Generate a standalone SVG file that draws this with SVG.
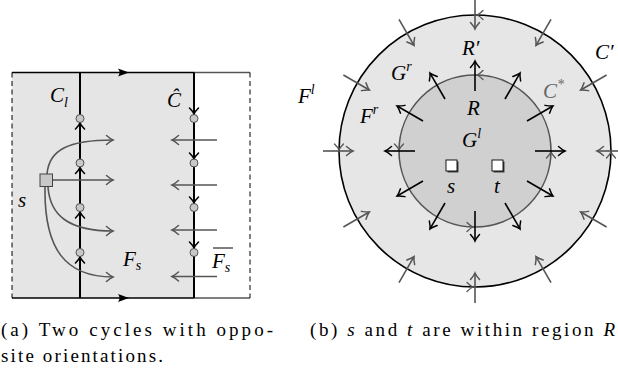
<svg xmlns="http://www.w3.org/2000/svg" width="618" height="368" viewBox="0 0 618 368">
<style>
.m{font-family:"Liberation Serif","Times New Roman",serif;font-style:italic;font-size:21px;fill:#000}
.sub{font-size:14px}
.cap{font-family:"Liberation Serif","Times New Roman",serif;font-size:19px;fill:#000}
.ga{fill:none;stroke:#555;stroke-width:1.6;marker-end:url(#mg)}
.ba{fill:none;stroke:#000;stroke-width:1.6;marker-end:url(#mb)}
.dot{fill:#c8c8c8;stroke:#444;stroke-width:0.9}
.hb{fill:none;stroke:#000;stroke-width:1.6;stroke-linecap:round}
.hg{fill:none;stroke:#555;stroke-width:1.3;stroke-linecap:round}
</style>
<defs>
<marker id="mg" markerUnits="userSpaceOnUse" viewBox="-8 -6 10 12" markerWidth="10" markerHeight="12" refX="0" refY="0" orient="auto">
<path d="M-6.5,-4.5 Q-2.5,-1 0,0 Q-2.5,1 -6.5,4.5" fill="none" stroke="#555" stroke-width="1.5" stroke-linecap="round"/>
</marker>
<marker id="mb" markerUnits="userSpaceOnUse" viewBox="-8 -6 10 12" markerWidth="10" markerHeight="12" refX="0" refY="0" orient="auto">
<path d="M-6.5,-4.5 Q-2.5,-1 0,0 Q-2.5,1 -6.5,4.5" fill="none" stroke="#000" stroke-width="1.5" stroke-linecap="round"/>
</marker>
<path id="hd" d="M-6,-4.5 Q-2.5,-1 0,0 Q-2.5,1 -6,4.5"/>
</defs>

<!-- ===== Figure (a) ===== -->
<g id="frame-a">
<rect x="12" y="72.5" width="182" height="225.5" fill="#e5e5e5"/>
<line x1="12" y1="72.5" x2="194" y2="72.5" stroke="#000" stroke-width="1.3"/>
<line x1="194" y1="72.5" x2="250" y2="72.5" stroke="#555" stroke-width="1.3"/>
<line x1="12" y1="298" x2="194" y2="298" stroke="#000" stroke-width="1.3"/>
<line x1="194" y1="298" x2="250" y2="298" stroke="#555" stroke-width="1.3"/>
<line x1="12" y1="72.5" x2="12" y2="298" stroke="#000" stroke-width="1" stroke-dasharray="5,3.5"/>
<line x1="250" y1="72.5" x2="250" y2="298" stroke="#000" stroke-width="1" stroke-dasharray="5,3.5"/>
<path d="M118,68.5 L129,72.5 L118,76.5 Q121,72.5 118,68.5 Z" fill="#000"/>
<path d="M118,294 L129,298 L118,302 Q121,298 118,294 Z" fill="#000"/>
</g>

<g id="connectors">
<line x1="80" y1="72.5" x2="80" y2="298" stroke="#000" stroke-width="2"/>
<use href="#hd" class="hb" transform="translate(80,123) rotate(-90)"/>
<use href="#hd" class="hb" transform="translate(80,167.5) rotate(-90)"/>
<use href="#hd" class="hb" transform="translate(80,212) rotate(-90)"/>
<use href="#hd" class="hb" transform="translate(80,257) rotate(-90)"/>
<line x1="194" y1="72.5" x2="194" y2="298" stroke="#000" stroke-width="2"/>
<use href="#hd" class="hb" transform="translate(194,114) rotate(90)"/>
<use href="#hd" class="hb" transform="translate(194,159) rotate(90)"/>
<use href="#hd" class="hb" transform="translate(194,203) rotate(90)"/>
<use href="#hd" class="hb" transform="translate(194,248) rotate(90)"/>
<path class="ga" d="M47,174 C49,150 68,140 113,140"/>
<path class="ga" d="M53,180 L113,180"/>
<path class="ga" d="M48,187 C50,215 68,231 113,231"/>
<path class="ga" d="M45,187 C44,250 66,277 113,277"/>
<path class="ga" d="M217,140 L172,140"/>
<path class="ga" d="M217,185 L172,185"/>
<path class="ga" d="M217,230 L172,230"/>
<path class="ga" d="M217,276.5 L172,276.5"/>
</g>

<g id="dots-Cl">
<circle class="dot" cx="80" cy="118.5" r="4"/>
<circle class="dot" cx="80" cy="163" r="4"/>
<circle class="dot" cx="80" cy="207.5" r="4"/>
<circle class="dot" cx="80" cy="252.5" r="4"/>
</g>
<g id="dots-Chat">
<circle class="dot" cx="194" cy="118.5" r="4"/>
<circle class="dot" cx="194" cy="163" r="4"/>
<circle class="dot" cx="194" cy="207.5" r="4"/>
<circle class="dot" cx="194" cy="252.5" r="4"/>
</g>
<g id="node-s-a">
<rect x="40" y="174" width="12.5" height="12.5" fill="#c8c8c8" stroke="#444" stroke-width="1"/>
</g>

<g id="labels-a">
<text class="m" x="18" y="207">s</text>
<text class="m" x="50" y="102">C<tspan class="sub" dy="5">l</tspan></text>
<text class="m" x="167" y="107">Ĉ</text>
<text class="m" x="123" y="266">F<tspan class="sub" dy="4">s</tspan></text>
<text class="m" x="212" y="268">F<tspan class="sub" dy="4">s</tspan></text>
<line x1="213" y1="248" x2="233" y2="248" stroke="#000" stroke-width="1"/>
</g>

<text class="cap" x="1" y="336" textLength="272" lengthAdjust="spacing">(a) Two cycles with oppo-</text>
<text class="cap" x="1" y="361.5" textLength="162" lengthAdjust="spacing">site orientations.</text>

<!-- ===== Figure (b) ===== -->
<g id="node-Cprime">
<circle cx="475" cy="151" r="136" fill="#e6e6e6" stroke="#000" stroke-width="1.6"/>
</g>
<g id="node-R">
<circle cx="475" cy="151" r="76" fill="#d0d0d0" stroke="#555" stroke-width="1.6"/>
</g>

<g id="orientation-marks">
<use href="#hd" class="hg" transform="translate(477,15) rotate(180)"/>
<use href="#hd" class="hg" transform="translate(339,150) rotate(90)"/>
<use href="#hd" class="hg" transform="translate(473,287)"/>
<use href="#hd" class="hg" transform="translate(611,152) rotate(-90)"/>
<use href="#hd" class="hg" transform="translate(477,75) rotate(180)"/>
<use href="#hd" class="hg" transform="translate(399,150) rotate(90)"/>
<use href="#hd" class="hg" transform="translate(473,227)"/>
<use href="#hd" class="hg" transform="translate(551,152) rotate(-90)"/>
</g>

<g id="connectors-b">
<line class="ba" x1="535" y1="151" x2="565" y2="151"/>
<line class="ba" x1="527" y1="121" x2="552.9" y2="106"/>
<line class="ba" x1="505" y1="99" x2="520" y2="73.1"/>
<line class="ba" x1="475" y1="91" x2="475" y2="61"/>
<line class="ba" x1="445" y1="99" x2="430" y2="73.1"/>
<line class="ba" x1="423" y1="121" x2="397.1" y2="106"/>
<line class="ba" x1="415" y1="151" x2="385" y2="151"/>
<line class="ba" x1="423" y1="181" x2="397.1" y2="196"/>
<line class="ba" x1="445" y1="203" x2="430" y2="228.9"/>
<line class="ba" x1="475" y1="211" x2="475" y2="241"/>
<line class="ba" x1="505" y1="203" x2="520" y2="228.9"/>
<line class="ba" x1="527" y1="181" x2="552.9" y2="196"/>
<line class="ga" x1="627" y1="151" x2="597" y2="151"/>
<line class="ga" x1="606.6" y1="75" x2="580.7" y2="90"/>
<line class="ga" x1="551" y1="19.4" x2="536" y2="45.3"/>
<line class="ga" x1="475" y1="-1" x2="475" y2="29"/>
<line class="ga" x1="399" y1="19.4" x2="414" y2="45.3"/>
<line class="ga" x1="343.4" y1="75" x2="369.3" y2="90"/>
<line class="ga" x1="323" y1="151" x2="353" y2="151"/>
<line class="ga" x1="343.4" y1="227" x2="369.3" y2="212"/>
<line class="ga" x1="399" y1="282.6" x2="414" y2="256.7"/>
<line class="ga" x1="475" y1="303" x2="475" y2="273"/>
<line class="ga" x1="551" y1="282.6" x2="536" y2="256.7"/>
<line class="ga" x1="606.6" y1="227" x2="580.7" y2="212"/>
</g>

<g id="node-s-b">
<rect x="447.5" y="161.5" width="11" height="11" fill="#444"/>
<rect x="446" y="160" width="11" height="11" fill="#fff" stroke="#000" stroke-width="0.9"/>
</g>
<g id="node-t-b">
<rect x="493.5" y="161.5" width="11" height="11" fill="#444"/>
<rect x="492" y="160" width="11" height="11" fill="#fff" stroke="#000" stroke-width="0.9"/>
</g>

<g id="labels-b">
<text class="m" x="298" y="103">F<tspan class="sub" dy="-9">l</tspan></text>
<text class="m" x="391" y="80">G<tspan class="sub" dy="-9">r</tspan></text>
<text class="m" x="360" y="123">F<tspan class="sub" dy="-9">r</tspan></text>
<text class="m" x="462" y="55">R′</text>
<text class="m" x="467" y="115">R</text>
<text class="m" x="462" y="147">G<tspan class="sub" dy="-9">l</tspan></text>
<text class="m" x="543" y="98" style="fill:#666">C<tspan class="sub" dy="-9">*</tspan></text>
<text class="m" x="595" y="59">C′</text>
<text class="m" x="447" y="193">s</text>
<text class="m" x="494" y="193">t</text>
</g>

<text class="cap" x="310" y="335.5" textLength="305" lengthAdjust="spacing">(b) <tspan font-style="italic">s</tspan> and <tspan font-style="italic">t</tspan> are within region <tspan font-style="italic">R</tspan></text>
</svg>
